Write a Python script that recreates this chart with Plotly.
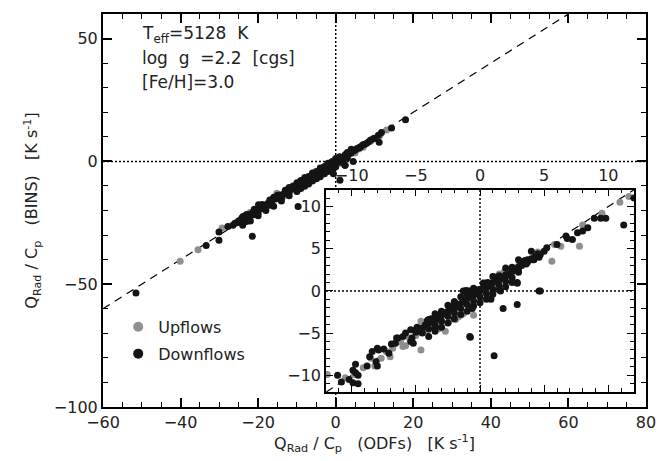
import plotly.graph_objects as go

# ---------------- data ----------------
# Main panel: Q_Rad/C_p from ODFs (x) vs from BINS (y) [K s^-1]
main_up_x = [-40.1, -35.5, -29.3, -22.1, -15.2, -4.9, -2.8, 7.1, 11.4, 13.1, -18.0, -12.0, -8.0, -6.0,
             -1.0, 3.0, 5.0, 9.0, -25.0, -20.0, -10.0, -3.0, 1.0, 2.0, -16.5, -13.5, -7.0, 4.0, 6.0]
main_up_y = [-40.7, -36.0, -27.1, -20.8, -13.0, -7.0, -5.0, 5.8, 10.5, 12.8, -17.5, -12.2, -8.8, -6.8,
             -2.0, 1.5, 3.4, 8.2, -24.5, -19.8, -10.9, -3.9, -0.8, 0.5, -16.9, -14.2, -7.9, 3.2, 5.0]

main_down_x = [-51.5, -33.4, -30.1, -30.1, -27.8, -21.5, -23.9, -22.6, -23.0, -24.2, -23.4, -21.4, -19.9,
               -19.1, -16.9, -14.4, -12.6, -10.5, -9.2, -7.5, -5.8, -4.0, -2.3, -0.6, -0.6, 1.1, 18.0,
               14.4, 11.8, 9.7, 11.2, 4.5, -1.5, 1.1, 3.7, 6.3, 8.0, 2.4, -9.7,
               -26.5, -26.0, -25.5, -25.0, -24.5, -24.0, -23.5, -22.5, -22.0, -21.5, -21.0, -20.5,
               -19.5, -19.0, -18.5, -17.5, -17.0, -16.5, -15.5, -15.0, -14.5, -13.5, -13.0, -12.5,
               -12.0, -11.5, -11.0, -10.5, -10.0, -9.5, -9.0, -8.5, -8.0, -7.5, -7.0, -6.5, -6.0,
               -5.5, -5.0, -4.5, -4.0, -3.5, -3.0, -2.5, -2.0, -1.5, -1.0, -0.5, 0.0, 0.5, 1.0, 1.5,
               2.0, 2.5, 3.0, 3.5, 4.0, 4.5, 5.0, 5.5, 6.0, 6.5, 7.0, 7.5, 8.5, 9.0, 10.0, 11.0,
               -20.0, -17.0, -14.0, -12.0, -10.0, -8.0, -6.0, -4.0, -2.0, -1.0, 0.0, 1.0, 2.0, 3.0,
               -15.0, -11.0, -7.0, -5.0, -3.0, -1.0, 0.5, 2.5, 2.4, 1.5,
               -24.0, -22.0, -20.0, -18.0, -16.0, -14.0, -12.0, -10.0, -9.0, -8.0, -7.0, -6.0, -5.0,
               -4.0, -3.0, -2.0, -1.0, 0.0,
               -23.0, -21.0, -19.0, -17.0, -16.0, -13.0, -12.0, -10.0, -9.0, -8.0, -6.0, -4.0, -2.0,
               0.0, 1.0, 3.0, 4.0]
main_down_y = [-53.6, -34.3, -32.1, -28.8, -26.5, -30.5, -22.4, -21.8, -24.5, -23.1, -22.2, -21.8, -17.7,
               -19.1, -16.4, -13.7, -11.7, -10.4, -9.0, -7.0, -5.6, -3.6, -1.6, 0.1, -5.0, -7.7, 16.9,
               13.6, 11.8, 9.2, 7.8, 0.0, -0.9, 1.7, 3.8, 5.8, 7.4, -1.6, -18.4,
               -26.0, -25.2, -25.0, -24.2, -24.4, -23.5, -23.4, -22.3, -21.6, -21.0, -20.8, -20.2,
               -19.4, -18.6, -18.0, -17.2, -16.8, -16.0, -15.3, -14.6, -14.3, -13.4, -12.7, -12.3,
               -11.8, -11.5, -10.9, -10.6, -10.2, -9.6, -9.1, -8.8, -8.2, -7.7, -7.1, -6.8, -6.1,
               -5.7, -5.2, -4.7, -4.3, -3.8, -3.2, -2.8, -2.2, -1.6, -1.1, -0.6, -0.1, 0.3, 0.8, 1.1,
               1.5, 2.1, 2.6, 3.2, 3.5, 4.1, 4.6, 5.2, 5.5, 6.1, 6.8, 7.0, 8.0, 8.7, 9.4, 10.6,
               -21.0, -17.9, -14.9, -12.6, -10.9, -8.9, -6.9, -5.0, -3.0, -2.0, -1.0, -0.2, 0.8, 1.5,
               -13.8, -10.0, -6.2, -4.1, -2.2, -0.2, 0.9, 2.8, -1.6, -0.4,
               -26.0, -24.3, -22.1, -20.0, -18.3, -16.1, -14.0, -12.3, -11.0, -10.1, -9.2, -8.0, -7.1,
               -6.3, -5.0, -4.1, -3.3, -2.2,
               -21.6, -19.5, -17.6, -15.7, -14.6, -11.8, -10.6, -8.7, -7.8, -6.6, -4.7, -2.7, -0.8,
               1.2, 1.9, 3.6, 4.9]

# Inset panel (zoom on [-12, 12])
ins_up_x = [-11.9, -9.1, -7.7, -7.3, -6.8, -6.2, -4.6, -4.6, -4.1, -2.7, -1.9, -1.3, -0.5, -2.0, -1.5,
            1.5, 2.9, 2.3, 11.6, 10.9, 8.0, 7.75, 6.3, 5.8, 5.6, 2.7, -10.5, -9.8, -8.5, -5.5, -5.0,
            -3.5, -3.0, -1.0, 0.0, 0.5, 1.0, 3.5, 4.5, 9.5, -6.0, -8.2, -3.2, -2.2, -0.8, 0.8,
            -2.4, -1.7, 0.3, 1.2, 1.9, -7.0, -5.8]
ins_up_y = [-9.9, -9.1, -8.0, -7.2, -6.8, -6.0, -7.0, -3.6, -4.8, -4.8, -3.4, -2.7, -2.9, -3.3, -2.9,
            2.0, 2.6, 2.4, 11.2, 10.5, 7.8, 5.3, 5.3, 5.5, 3.5, 2.4, -10.3, -9.9, -8.0, -5.6, -5.3,
            -3.9, -3.5, -1.6, -0.8, -0.2, 0.6, 3.3, 4.6, 9.2, -6.6, -8.9, -4.5, -2.3, -2.0, -0.5,
            -3.6, -3.1, 1.0, 1.7, 2.3, -7.8, -6.5]

ins_down_x = [-11.1, -10.8, -9.9, -9.5, -9.7, -9.7, -9.5, -8.8, -8.6, -8.4, -8.0, -7.9, -8.1, -8.0, -7.1,
              -6.6, -6.4, -5.8, -5.4, -5.3, -5.4, -4.9, -4.1, -3.6, -3.5, -3.1, -2.8, -2.3, -1.7, -0.75,
              -2.0, -1.3, -0.75, -0.4, -1.0, -0.7, -0.4, -0.1, 0.0, 0.3, 2.9, 1.8, 2.9, 0.85, 1.6, 4.6,
              -0.6, 0.6, 1.4, 2.1, 3.2, 3.7, 4.2, -0.7, -2.0, -3.0, -3.8, 1.1, 12.0, 11.2, 9.8, 9.4,
              8.9, 8.4, 8.0, 7.6, 7.2, 6.8, 6.7, 6.0, 5.2, 5.0, 4.7, 4.6, 4.1, 3.7, 3.6, 3.3, 3.0, 2.9,
              4.7, -6.9, -7.5, -6.0, -5.0, -9.9, -10.2, -5.2, -6.5, -0.8,
              -5.0, -4.75, -4.5, -4.25, -4.0, -3.75, -3.5, -3.25, -3.0, -2.75, -2.5, -2.25, -2.0, -1.75,
              -1.5, -1.25, -1.0, -0.75, -0.5, -0.25, 0.0, 0.25, 0.5, 0.75, 1.0, 1.25, 1.5, 1.75, 2.0,
              2.25, 2.5, 2.75, 3.0, 3.25, 3.5, 3.75, 4.0, 4.25, 4.5,
              -4.5, -4.0, -3.5, -3.0, -2.5, -2.0, -1.5, -1.0, -0.5, 0.0, 0.5, 1.0, 1.5, 2.0, 2.5, 3.0,
              -4.0, -3.0, -2.0, -1.0, 0.5, 1.5, 2.5, 3.5, -1.3, -1.1, -0.9, -0.3, 0.2,
              -4.0, -3.5, -3.0, -2.5, -2.0, -1.5, -1.0, -0.5, 0.0, 0.5, 1.0, 1.5, 2.0, 2.5,
              -3.5, -2.5, -1.5, -0.5, 0.25, 1.0, 2.0, 3.0, 4.0]
ins_down_y = [-10.0, -10.8, -10.9, -11.0, -9.7, -8.7, -10.0, -8.9, -7.8, -7.2, -6.8, -7.0, -8.4, -8.9, -7.4,
              -6.2, -5.6, -5.0, -4.6, -5.6, -6.0, -4.3, -3.5, -3.3, -4.4, -3.3, -2.7, -2.1, -1.9, -5.5,
              -1.7, -1.1, -0.55, -0.2, 0.0, 0.0, 0.05, 0.1, 0.2, 0.3, 1.0, -2.1, -1.6, -1.0, 0.0, 0.0,
              -2.1, 1.0, 1.4, 1.8, 3.2, 3.4, 3.7, -0.55, -1.3, -2.5, -3.3, -7.7, 11.0, 7.8, 8.6, 8.6,
              8.6, 7.5, 7.1, 6.9, 6.1, 6.2, 6.5, 5.5, 5.1, 4.7, 4.3, 4.0, 3.7, 3.7, 3.2, 3.4, 2.6, 0.9,
              0.0, -6.3, -6.9, -5.4, -4.6, -9.4, -10.5, -6.2, -5.6, -5.4,
              -4.9, -4.5, -4.4, -4.0, -3.9, -3.5, -3.4, -3.1, -2.9, -2.6, -2.4, -2.1, -1.9, -1.6,
              -1.5, -1.2, -0.9, -0.7, -0.5, -0.3, 0.0, 0.2, 0.4, 0.6, 1.0, 1.1, 1.3, 1.6, 1.9,
              2.0, 2.3, 2.5, 2.9, 3.0, 3.3, 3.6, 3.8, 4.0, 4.4,
              -5.0, -4.5, -4.0, -3.6, -3.0, -2.6, -2.1, -1.6, -1.2, -0.7, -0.3, 0.2, 0.6, 1.1, 1.6, 2.2,
              -3.4, -2.4, -1.3, -0.4, 0.8, 1.8, 2.8, 3.6, 0.0, 0.05, 0.0, 0.1, 0.25,
              -5.4, -4.8, -4.3, -3.8, -3.3, -2.8, -2.4, -1.8, -1.4, -1.0, -0.4, 0.1, 0.5, 1.0,
              -2.7, -1.7, -0.7, 0.3, 0.9, 1.7, 2.7, 3.7, 4.7]

# reference lines (axis ranges)
main_xrange = [-60, 80]
main_yrange = [-100, 60]
main_diag = [-60, 60]
ins_range = [-12, 12]

main_xticks = [-60, -40, -20, 0, 20, 40, 60, 80]
main_yticks = [-100, -50, 0, 50]
ins_ticks = [-10, -5, 0, 5, 10]

GRAY = "#8f8f8f"
BLACK = "#141414"
FONT = "DejaVu Sans"
MS = 7

fig = go.Figure()

# ---- main panel lines ----
fig.add_trace(go.Scatter(x=main_diag, y=main_diag, mode="lines", xaxis="x", yaxis="y",
                         line=dict(color="black", width=1.2, dash="8px,6px"), showlegend=False, hoverinfo="skip"))
fig.add_trace(go.Scatter(x=[0, 0], y=main_yrange, mode="lines", xaxis="x", yaxis="y",
                         line=dict(color="black", width=1.5, dash="2px,2px"), showlegend=False, hoverinfo="skip"))
fig.add_trace(go.Scatter(x=main_xrange, y=[0, 0], mode="lines", xaxis="x", yaxis="y",
                         line=dict(color="black", width=1.5, dash="2px,2px"), showlegend=False, hoverinfo="skip"))
fig.add_trace(go.Scatter(x=main_up_x, y=main_up_y, mode="markers", xaxis="x", yaxis="y",
                         marker=dict(color=GRAY, size=MS), showlegend=False))
fig.add_trace(go.Scatter(x=main_down_x, y=main_down_y, mode="markers", xaxis="x", yaxis="y",
                         marker=dict(color=BLACK, size=MS), showlegend=False))

# ---- inset lines ----
fig.add_trace(go.Scatter(x=ins_range, y=ins_range, mode="lines", xaxis="x2", yaxis="y2",
                         line=dict(color="black", width=1.2, dash="8px,6px"), showlegend=False, hoverinfo="skip"))
fig.add_trace(go.Scatter(x=[0, 0], y=ins_range, mode="lines", xaxis="x2", yaxis="y2",
                         line=dict(color="black", width=1.5, dash="2px,2px"), showlegend=False, hoverinfo="skip"))
fig.add_trace(go.Scatter(x=ins_range, y=[0, 0], mode="lines", xaxis="x2", yaxis="y2",
                         line=dict(color="black", width=1.5, dash="2px,2px"), showlegend=False, hoverinfo="skip"))
fig.add_trace(go.Scatter(x=ins_up_x, y=ins_up_y, mode="markers", xaxis="x2", yaxis="y2",
                         marker=dict(color=GRAY, size=MS), showlegend=False))
fig.add_trace(go.Scatter(x=ins_down_x, y=ins_down_y, mode="markers", xaxis="x2", yaxis="y2",
                         marker=dict(color=BLACK, size=MS), showlegend=False))

# legend entries
fig.add_trace(go.Scatter(x=[None], y=[None], mode="markers", name="Upflows", legendgroup="up",
                         marker=dict(color=GRAY, size=10)))
fig.add_trace(go.Scatter(x=[None], y=[None], mode="markers", name="Downflows", legendgroup="down",
                         marker=dict(color=BLACK, size=10)))

axis_common = dict(showline=True, linecolor="black", mirror="ticks", ticks="inside", tickcolor="black",
                   showgrid=False, zeroline=False, tickfont=dict(family=FONT, size=16, color="#222"))

fig.update_layout(
    width=670, height=461,
    margin=dict(l=103, r=24, t=13, b=52),
    paper_bgcolor="white", plot_bgcolor="white",
    font=dict(family=FONT, size=16, color="#222"),
    xaxis=dict(range=main_xrange, tickvals=main_xticks, ticklen=9, tickwidth=1.5, linewidth=2,
               minor=dict(dtick=5, tick0=0, ticklen=5, ticks="inside", tickcolor="black", tickwidth=1.2),
               title=dict(text="Q<sub>Rad</sub> / C<sub>p</sub>&nbsp;&nbsp;&nbsp;(ODFs)&nbsp;&nbsp;&nbsp;[K s<sup>-1</sup>]",
                          font=dict(family=FONT, size=16), standoff=6),
               domain=[0, 1], **axis_common),
    yaxis=dict(range=main_yrange, tickvals=main_yticks, ticklen=9, tickwidth=1.5, linewidth=2,
               minor=dict(dtick=10, tick0=0, ticklen=5, ticks="inside", tickcolor="black", tickwidth=1.2),
               title=dict(text="Q<sub>Rad</sub> / C<sub>p</sub>&nbsp;&nbsp;&nbsp;(BINS)&nbsp;&nbsp;&nbsp;[K s<sup>-1</sup>]",
                          font=dict(family=FONT, size=16), standoff=12),
               domain=[0, 1], **axis_common),
    xaxis2=dict(range=ins_range, tickvals=ins_ticks, side="top", anchor="y2", ticklen=7, tickwidth=1.3,
                linewidth=1.6,
                minor=dict(dtick=1, tick0=0, ticklen=4, ticks="inside", tickcolor="black", tickwidth=1),
                domain=[0.4107, 0.9779], **axis_common),
    yaxis2=dict(range=ins_range, tickvals=ins_ticks, anchor="x2", ticklen=7, tickwidth=1.3, linewidth=1.6,
                minor=dict(dtick=1, tick0=0, ticklen=4, ticks="inside", tickcolor="black", tickwidth=1),
                domain=[0.0379, 0.553], **axis_common),
    legend=dict(x=0.028, y=0.247, xanchor="left", yanchor="top", bgcolor="rgba(0,0,0,0)",
                font=dict(family=FONT, size=16, color="#222"), traceorder="grouped", tracegroupgap=3),
    showlegend=True,
)

ann_font = dict(family=FONT, size=17, color="#222")
fig.add_annotation(text="T<sub>eff</sub>=5128&nbsp;&nbsp;K", xref="paper", yref="paper", x=0.068, y=0.949,
                   xanchor="left", yanchor="middle", showarrow=False, font=ann_font)
fig.add_annotation(text="log&nbsp;&nbsp;g&nbsp;&nbsp;=2.2&nbsp;&nbsp;[cgs]", xref="paper", yref="paper", x=0.068, y=0.889,
                   xanchor="left", yanchor="middle", showarrow=False, font=ann_font)
fig.add_annotation(text="[Fe/H]=3.0", xref="paper", yref="paper", x=0.068, y=0.826,
                   xanchor="left", yanchor="middle", showarrow=False, font=ann_font)

fig.write_html("out.html", config={"displayModeBar": False},
               post_script="document.body.style.margin='0px';")
